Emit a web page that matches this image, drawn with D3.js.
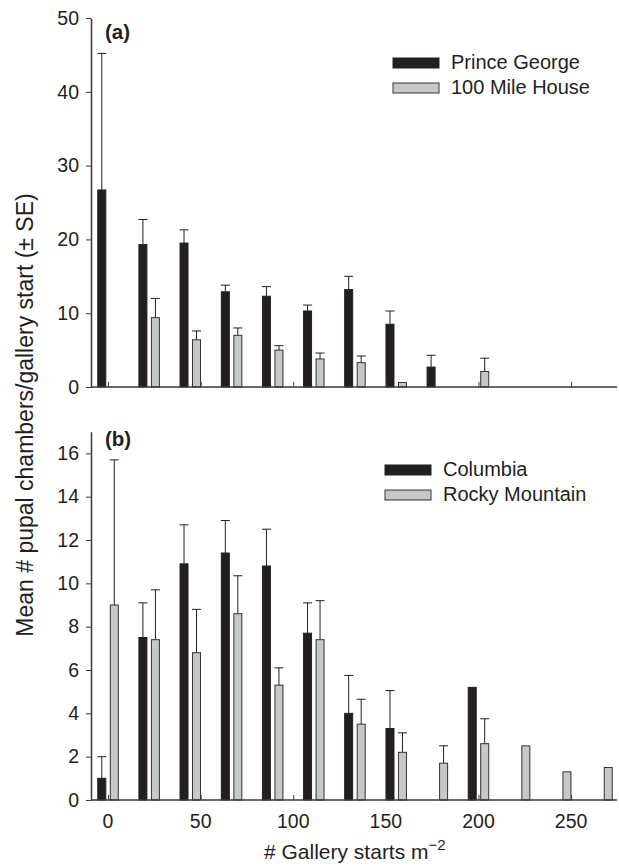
<!DOCTYPE html>
<html>
<head>
<meta charset="utf-8">
<script src="https://cdn.jsdelivr.net/npm/d3@7"></script>
<style>
  body { margin: 0; background: #fff; }
  text { font-family: "Liberation Sans", Arial, sans-serif; fill: #231f20; }
</style>
</head>
<body>
<script>
/* x positions of the gallery-start classes */
var groups = [0, 22.2, 44.4, 66.7, 88.9, 111.1, 133.3, 155.6, 177.8, 200, 222.2, 244.4, 266.7];
var xTicks = [0, 50, 100, 150, 200, 250];

/* panel (a) */
var princeGeorge   = [26.7, 19.3, 19.5, 12.9, 12.3, 10.3, 13.2, 8.5, 2.7, null, null, null, null];
var princeGeorgeSE = [18.5, 3.4, 1.8, 0.9, 1.3, 0.8, 1.8, 1.8, 1.6, null, null, null, null];
var mileHouse      = [null, 9.4, 6.4, 7.0, 5.0, 3.8, 3.3, 0.6, null, 2.1, null, null, null];
var mileHouseSE    = [null, 2.6, 1.2, 1.0, 0.6, 0.8, 0.9, null, null, 1.8, null, null, null];
var yTicksA = [0, 10, 20, 30, 40, 50];

/* panel (b) */
var columbia   = [1.0, 7.5, 10.9, 11.4, 10.8, 7.7, 4.0, 3.3, null, 5.2, null, null, null];
var columbiaSE = [1.0, 1.6, 1.8, 1.5, 1.7, 1.4, 1.75, 1.75, null, null, null, null, null];
var rocky      = [9.0, 7.4, 6.8, 8.6, 5.3, 7.4, 3.5, 2.2, 1.7, 2.6, 2.5, 1.3, 1.5];
var rockySE    = [6.7, 2.3, 2.0, 1.75, 0.8, 1.8, 1.15, 0.9, 0.8, 1.15, null, null, null];
var yTicksB = [0, 2, 4, 6, 8, 10, 12, 14, 16];

var width = 619, height = 866;
var ink = "#231f20", axisCol = "#3a3a3a", grey = "#c6c7c8";
var barW = 8, offset = 6.25;

var svg = d3.select("body").append("svg")
    .attr("width", width)
    .attr("height", height);

var x = d3.scaleLinear().domain([-9.2, 274.8]).range([91, 617]);

function drawPanel(opts){
    var y = d3.scaleLinear().domain(opts.domain).range(opts.range);
    var g = svg.append("g");

    /* bars + error bars */
    [[opts.s1, opts.e1, ink, -offset], [opts.s2, opts.e2, grey, offset]].forEach(function(s){
        var vals = s[0], errs = s[1];
        var pts = groups.map(function(d, i){ return {x: d, v: vals[i], e: errs[i]}; })
            .filter(function(d){ return d.v != null; });

        g.selectAll(null).data(pts.filter(function(d){ return d.e != null; })).enter()
            .append("path")
            .attr("d", function(d){
                var cx = x(d.x) + s[3], t = y(d.v + d.e);
                return "M" + cx + "," + y(d.v) + "V" + t + "M" + (cx - 4.5) + "," + t + "H" + (cx + 4.5);
            })
            .attr("stroke", ink).attr("stroke-width", 1).attr("fill", "none");

        g.selectAll(null).data(pts).enter()
            .append("rect")
            .attr("x", function(d){ return x(d.x) + s[3] - barW / 2; })
            .attr("y", function(d){ return y(d.v); })
            .attr("width", barW)
            .attr("height", function(d){ return y(0) - y(d.v); })
            .attr("fill", s[2])
            .attr("stroke", s[2] == ink ? ink : "#333")
            .attr("stroke-width", 1);
    });

    /* x axis: ticks point inwards */
    var xa = g.append("g").attr("transform", "translate(0," + y(0) + ")")
        .call(d3.axisTop(x).tickValues(xTicks).tickSize(5).tickFormat(""));
    xa.select(".domain").attr("d", "M" + x.range()[0] + ",0H" + x.range()[1])
        .attr("stroke", axisCol).attr("stroke-width", 1.5);
    xa.selectAll("line").attr("stroke", axisCol);
    if (opts.labels) {
        g.selectAll(null).data(xTicks).enter().append("text")
            .attr("x", function(d){ return x(d); })
            .attr("y", y(0) + 28)
            .attr("text-anchor", "middle")
            .attr("font-size", 19.5)
            .text(function(d){ return d; });
    }

    /* y axis */
    var ya = g.append("g").attr("transform", "translate(" + x.range()[0] + ",0)")
        .call(d3.axisLeft(y).tickValues(opts.yTicks).tickSize(5).tickSizeOuter(0).tickPadding(7));
    ya.select(".domain").attr("stroke", axisCol).attr("stroke-width", 1.5);
    ya.selectAll("line").attr("stroke", axisCol);
    ya.selectAll("text").attr("font-size", 19.5).attr("font-family", "Liberation Sans, Arial, sans-serif").attr("fill", ink);

    /* panel letter */
    g.append("text")
        .attr("x", 105).attr("y", opts.letterY)
        .attr("font-size", 20.5).attr("font-weight", "bold")
        .text(opts.letter);

    /* legend */
    var lg = g.append("g");
    [[opts.n1, ink], [opts.n2, grey]].forEach(function(l, i){
        lg.append("rect")
            .attr("x", opts.legX).attr("y", opts.legY + i * 25 - 11)
            .attr("width", 46).attr("height", 10)
            .attr("fill", l[1]).attr("stroke", l[1] == ink ? ink : "#333");
        lg.append("text")
            .attr("x", opts.legX + 58).attr("y", opts.legY + i * 25)
            .attr("font-size", 20)
            .text(l[0]);
    });
}

drawPanel({domain: [0, 50], range: [387, 18], yTicks: yTicksA,
    s1: princeGeorge, e1: princeGeorgeSE, s2: mileHouse, e2: mileHouseSE,
    letter: "(a)", letterY: 39, n1: "Prince George", n2: "100 Mile House",
    legX: 393, legY: 69, labels: false});

drawPanel({domain: [0, 17], range: [800, 431.7], yTicks: yTicksB,
    s1: columbia, e1: columbiaSE, s2: rocky, e2: rockySE,
    letter: "(b)", letterY: 446, n1: "Columbia", n2: "Rocky Mountain",
    legX: 385, legY: 476, labels: true});

/* axis titles */
var xt = svg.append("text")
    .attr("x", 264).attr("y", 859)
    .attr("font-size", 21);
xt.append("tspan").text("# Gallery starts m");
xt.append("tspan").attr("dy", -9).attr("font-size", 15).text("\u22122");

svg.append("text")
    .attr("transform", "translate(33,415) rotate(-90)")
    .attr("text-anchor", "middle")
    .attr("font-size", 23)
    .text("Mean # pupal chambers/gallery start (\u00b1 SE)");
</script>
</body>
</html>
